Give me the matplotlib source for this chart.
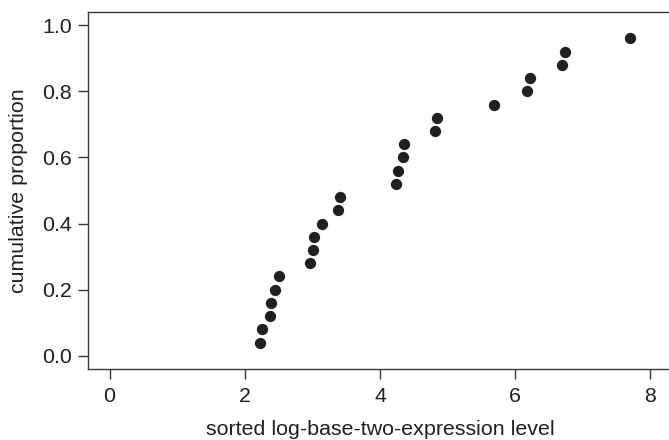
import numpy as np
import matplotlib.pyplot as plt

plt.rcParams['font.family'] = ['Liberation Sans', 'DejaVu Sans']

# sorted log2 expression values
expr_level = [2.23, 2.26, 2.37, 2.39, 2.45, 2.51, 2.96, 3.01, 3.03, 3.14,
              3.38, 3.41, 4.23, 4.26, 4.34, 4.35, 4.81, 4.84, 5.68, 6.17,
              6.22, 6.69, 6.73, 7.70]
cum_prop = [0.04, 0.08, 0.12, 0.16, 0.20, 0.24, 0.28, 0.32, 0.36, 0.40,
            0.44, 0.48, 0.52, 0.56, 0.60, 0.64, 0.68, 0.72, 0.76, 0.80,
            0.84, 0.88, 0.92, 0.96]
x_ticks = [0, 2, 4, 6, 8]
y_ticks = [0.0, 0.2, 0.4, 0.6, 0.8, 1.0]

ink = '#231f20'
line = '#3a3a3a'

fig = plt.figure(figsize=(6.69, 4.40), dpi=100)
ax = fig.add_axes([0.1315, 0.1614, 0.8730, 0.8113])

ax.scatter(expr_level, cum_prop, s=66, color=ink, linewidths=0, zorder=3)

ax.set_xlim(-0.32, 8.32)
ax.set_ylim(-0.04, 1.04)
ax.set_xticks(x_ticks)
ax.set_xticklabels([str(t) for t in x_ticks])
ax.set_yticks(y_ticks)
ax.set_yticklabels(['%.1f' % t for t in y_ticks])

for sp in ax.spines.values():
    sp.set_color(line)
    sp.set_linewidth(1.0)

ax.tick_params(axis='both', direction='out', length=7.2, width=1.0, color=line,
               labelsize=15.4, labelcolor=ink)
ax.tick_params(axis='x', pad=5.8)
ax.tick_params(axis='y', pad=4.3)

ax.set_xlabel('sorted log-base-two-expression level', fontsize=15.4, color=ink, labelpad=10.4)
ax.set_ylabel('cumulative proportion', fontsize=15.4, color=ink, labelpad=10)

plt.savefig('out.png', dpi=100, facecolor='w')
